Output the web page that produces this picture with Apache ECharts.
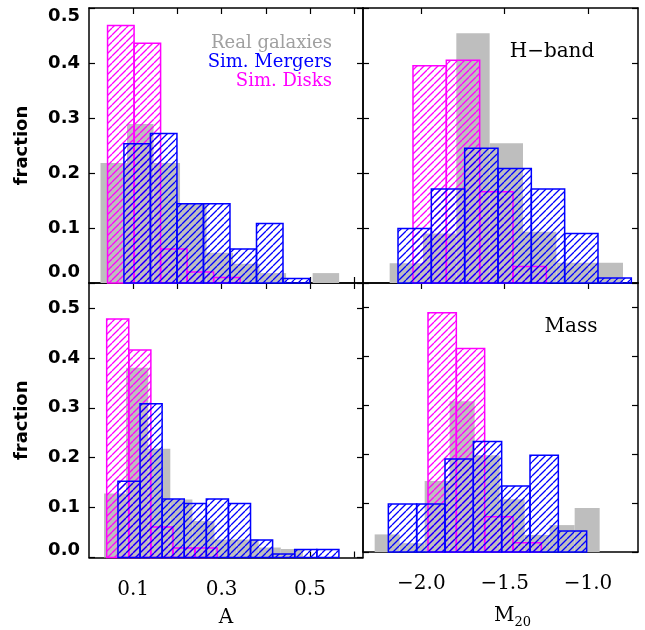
<!DOCTYPE html>
<html><head><meta charset="utf-8">
<script src="https://cdn.jsdelivr.net/npm/echarts@6/dist/echarts.min.js"></script>
<style>html,body{margin:0;padding:0;background:#fff;}#c{width:645px;height:630px;}</style>
</head><body><div id="c"></div>
<script>
// ---------- data (fractions per bin) ----------
// Top-left: A, H-band
const tlRealStart = 0.026, tlRealWidth = 0.06;
const tlReal = [0.218, 0.289, 0.218, 0.144, 0.055, 0.035, 0.018, 0.0, 0.018];
const tlDiskStart = 0.042, tlDiskWidth = 0.06;
const tlDisk = [0.468, 0.436, 0.062, 0.020, 0.010];
const tlMergerStart = 0.079, tlMergerWidth = 0.06;
const tlMerger = [0.253, 0.272, 0.144, 0.144, 0.062, 0.108, 0.008];
// Top-right: M20, H-band
const trRealStart = -2.19, trRealWidth = 0.2;
const trReal = [0.036, 0.090, 0.454, 0.254, 0.093, 0.037, 0.037];
const trDiskStart = -2.05, trDiskWidth = 0.2;
const trDisk = [0.395, 0.405, 0.166, 0.030];
const trMergerStart = -2.14, trMergerWidth = 0.2;
const trMerger = [0.099, 0.171, 0.245, 0.208, 0.171, 0.090, 0.009];
// Bottom-left: A, Mass
const blRealStart = 0.034, blRealWidth = 0.05;
const blReal = [0.128, 0.380, 0.218, 0.116, 0.073, 0.036, 0.036, 0.020, 0.017];
const blDiskStart = 0.040, blDiskWidth = 0.05;
const blDisk = [0.478, 0.416, 0.061, 0.019, 0.019];
const blMergerStart = 0.0655, blMergerWidth = 0.05;
const blMerger = [0.153, 0.308, 0.117, 0.108, 0.117, 0.108, 0.035, 0.007, 0.016, 0.016];
// Bottom-right: M20, Mass
const brRealStart = -2.28, brRealWidth = 0.15;
const brReal = [0.036, 0.018, 0.145, 0.308, 0.198, 0.108, 0.035, 0.055, 0.090];
const brDiskStart = -1.96, brDiskWidth = 0.17;
const brDisk = [0.489, 0.416, 0.072, 0.019];
const brMergerStart = -2.198, brMergerWidth = 0.17;
const brMerger = [0.098, 0.098, 0.190, 0.226, 0.135, 0.198, 0.043];

const aTicks = [0.1, 0.2, 0.3, 0.4, 0.5, 0.6];
const aLabels = [0.1, 0.3, 0.5];
const mTicks = [-2.0, -1.5, -1.0];
const yTicks = [0, 0.1, 0.2, 0.3, 0.4, 0.5];
const legendNames = ['Real galaxies', 'Sim. Mergers', 'Sim. Disks'];
const panelNames = ['H\u2212band', 'Mass'];

// ---------- helpers ----------
function bins(start, width, vals) {
  return vals.map((v, i) => [start + i * width, start + (i + 1) * width, v]);
}
function hatch(color, size) {
  const c = document.createElement('canvas');
  c.width = size; c.height = size;
  const g = c.getContext('2d');
  g.strokeStyle = color; g.lineWidth = 1.3;
  g.beginPath();
  for (let k = -1; k <= 1; k++) { g.moveTo(k * size, size); g.lineTo(k * size + size, 0); }
  g.stroke();
  return { image: c, repeat: 'repeat' };
}
const blueHatch = hatch('#0000ff', 7);
const magHatch = hatch('#ff00ff', 7);

function makeRender(kind) {
  return function (params, api) {
    const p0 = api.coord([api.value(0), api.value(2)]);
    const p1 = api.coord([api.value(1), 0]);
    let style;
    if (kind === 'real') style = { fill: '#bebebe' };
    else if (kind === 'disk') style = { fill: magHatch, stroke: '#ff00ff', lineWidth: 1.5 };
    else style = { fill: blueHatch, stroke: '#0000ff', lineWidth: 1.5 };
    return { type: 'rect', shape: { x: p0[0], y: p0[1], width: p1[0] - p0[0], height: p1[1] - p0[1] }, style: style };
  };
}

const grids = [
  { left: 89, top: 8, width: 274, height: 275 },
  { left: 363, top: 8, width: 275, height: 275 },
  { left: 89, top: 283, width: 274, height: 274.5 },
  { left: 363, top: 283, width: 275, height: 274.5 }
].map(g => Object.assign(g, { show: false, containLabel: false }));

const tickStyle = { show: true, inside: true, length: 6, lineStyle: { color: '#000', width: 1.2 } };
const serif = '"DejaVu Serif"';
const sans = '"DejaVu Sans"';
function axLine() { return { show: true, onZero: false, lineStyle: { color: '#000', width: 1.5 } }; }

const xAxes = [], yAxes = [];
for (let g = 0; g < 4; g++) {
  const isA = (g % 2 === 0);
  const isBottom = g >= 2;
  const xmin = isA ? 0 : -2.35, xmax = isA ? 0.62 : -0.70;
  xAxes.push({
    type: 'value', gridIndex: g, position: 'bottom', min: xmin, max: xmax,
    splitLine: { show: false }, axisLine: axLine(),
    axisTick: Object.assign({}, tickStyle, { customValues: isA ? aTicks : mTicks }),
    axisLabel: {
      show: isBottom, customValues: isA ? aLabels : mTicks, margin: 22,
      fontFamily: serif, fontSize: 20, color: '#000',
      formatter: v => (v < 0 ? '\u2212' : '') + Math.abs(v).toFixed(1)
    },
    name: isBottom ? (isA ? 'A' : '{m|M}{s|20}') : '',
    nameLocation: 'middle', nameGap: 50,
    nameTextStyle: {
      fontFamily: serif, fontSize: 20, color: '#000',
      rich: {
        m: { fontFamily: serif, fontSize: 20, color: '#000', padding: [0, 0, 0, 24] },
        s: { fontFamily: serif, fontSize: 13, color: '#000', padding: [14, 0, 0, 0] }
      }
    }
  });
  xAxes.push({
    type: 'value', gridIndex: g, position: 'top', min: xmin, max: xmax,
    splitLine: { show: false }, axisLine: axLine(),
    axisTick: Object.assign({}, tickStyle, { customValues: isA ? aTicks : mTicks }),
    axisLabel: { show: false }
  });

  const ymax = isBottom ? 0.55 : 0.5;
  const labStyle = { fontFamily: sans, fontWeight: 'bold', fontSize: 18, color: '#000' };
  yAxes.push({
    type: 'value', gridIndex: g, position: 'left', min: 0, max: ymax,
    splitLine: { show: false }, axisLine: axLine(),
    axisTick: Object.assign({}, tickStyle, { customValues: yTicks }),
    axisLabel: {
      show: isA, customValues: yTicks, margin: 9,
      fontFamily: sans, fontWeight: 'bold', fontSize: 18, color: '#000',
      formatter: v => {
        const t = v.toFixed(1);
        if (v === 0) return isBottom ? '{lo2|' + t + '}' : '{lo|' + t + '}';
        if (!isBottom && Math.abs(v - 0.5) < 1e-9) return '{hi|' + t + '}';
        return '{n|' + t + '}';
      },
      rich: {
        n: labStyle,
        lo: Object.assign({ padding: [0, 0, 22, 0] }, labStyle),
        lo2: Object.assign({ padding: [0, 0, 14, 0] }, labStyle),
        hi: Object.assign({ padding: [16, 0, 0, 0] }, labStyle)
      }
    },
    name: isA ? 'fraction' : '', nameLocation: 'middle', nameGap: 58, nameRotate: 90,
    nameTextStyle: { fontFamily: sans, fontWeight: 'bold', fontSize: 18, color: '#000' }
  });
  yAxes.push({
    type: 'value', gridIndex: g, position: 'right', min: 0, max: ymax,
    splitLine: { show: false }, axisLine: axLine(),
    axisTick: Object.assign({}, tickStyle, { customValues: yTicks }),
    axisLabel: { show: false }
  });
}

const panels = [
  [tlRealStart, tlRealWidth, tlReal, tlDiskStart, tlDiskWidth, tlDisk, tlMergerStart, tlMergerWidth, tlMerger],
  [trRealStart, trRealWidth, trReal, trDiskStart, trDiskWidth, trDisk, trMergerStart, trMergerWidth, trMerger],
  [blRealStart, blRealWidth, blReal, blDiskStart, blDiskWidth, blDisk, blMergerStart, blMergerWidth, blMerger],
  [brRealStart, brRealWidth, brReal, brDiskStart, brDiskWidth, brDisk, brMergerStart, brMergerWidth, brMerger]
];
const series = [];
panels.forEach((p, g) => {
  const defs = [['real', legendNames[0], 0, 1], ['disk', legendNames[2], 3, 2], ['merger', legendNames[1], 6, 3]];
  defs.forEach(d => {
    series.push({
      type: 'custom', name: d[1], coordinateSystem: 'cartesian2d',
      xAxisIndex: 2 * g, yAxisIndex: 2 * g, z: d[3], silent: true,
      encode: { x: [0, 1], y: 2 },
      renderItem: makeRender(d[0]),
      data: bins(p[d[2]], p[d[2] + 1], p[d[2] + 2])
    });
  });
});

const chart = echarts.init(document.getElementById('c'), null, { renderer: 'canvas' });
chart.setOption({
  animation: false,
  backgroundColor: '#fff',
  grid: grids, xAxis: xAxes, yAxis: yAxes, series: series,
  graphic: [
    { type: 'text', x: 332, y: 43, style: { text: legendNames[0], fill: '#a0a0a0', font: '18px ' + serif, align: 'right', verticalAlign: 'middle' } },
    { type: 'text', x: 332, y: 62, style: { text: legendNames[1], fill: '#0000ff', font: '18px ' + serif, align: 'right', verticalAlign: 'middle' } },
    { type: 'text', x: 332, y: 81, style: { text: legendNames[2], fill: '#ff00ff', font: '18px ' + serif, align: 'right', verticalAlign: 'middle' } },
    { type: 'text', x: 552, y: 52, style: { text: panelNames[0], fill: '#000', font: '20px ' + serif, align: 'center', verticalAlign: 'middle' } },
    { type: 'text', x: 571, y: 327, style: { text: panelNames[1], fill: '#000', font: '20px ' + serif, align: 'center', verticalAlign: 'middle' } }
  ]
});
</script></body></html>
